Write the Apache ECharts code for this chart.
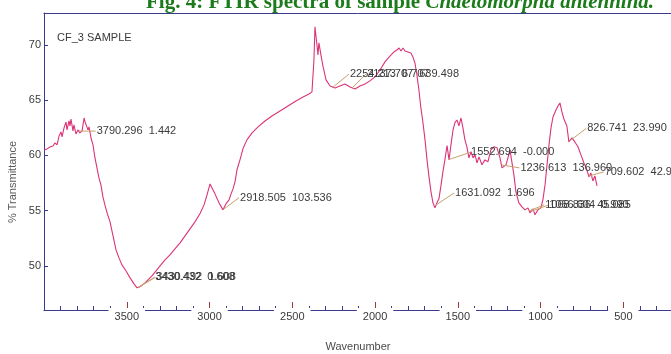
<!DOCTYPE html>
<html>
<head>
<meta charset="utf-8">
<script src="https://cdn.jsdelivr.net/npm/echarts@6/dist/echarts.min.js"></script>
<style>
  html, body { margin: 0; padding: 0; background: #ffffff; }
  #chart { width: 671px; height: 354px; }
</style>
</head>
<body>
<div id="chart"></div>
<script>
// FTIR spectrum of sample CF_3: wavenumber (cm-1) and % transmittance
const wavenumber = [
  4000, 3982, 3964, 3946, 3934, 3921, 3909, 3897, 3891, 3879, 3867, 3861, 3849, 3843, 3837, 3825,
  3819, 3807, 3795, 3783, 3770, 3758, 3752, 3746, 3734, 3728, 3716, 3704, 3692, 3680, 3668, 3656,
  3644, 3632, 3619, 3601, 3583, 3565, 3547, 3529, 3505, 3480, 3456, 3438, 3420, 3396, 3372, 3348,
  3323, 3299, 3269, 3239, 3209, 3178, 3148, 3118, 3088, 3058, 3033, 3015, 2997, 2985, 2967, 2943,
  2919, 2901, 2882, 2870, 2858, 2846, 2834, 2816, 2798, 2774, 2743, 2707, 2665, 2623, 2574, 2526,
  2478, 2435, 2399, 2381, 2369, 2363, 2351, 2345, 2339, 2327, 2315, 2296, 2272, 2242, 2212, 2182,
  2151, 2121, 2091, 2061, 2031, 2000, 1970, 1940, 1910, 1886, 1868, 1855, 1843, 1831, 1819, 1801,
  1783, 1771, 1759, 1747, 1735, 1723, 1711, 1698, 1686, 1674, 1662, 1650, 1638, 1626, 1614, 1602,
  1590, 1578, 1565, 1553, 1541, 1529, 1517, 1505, 1493, 1481, 1469, 1457, 1445, 1433, 1420, 1408,
  1396, 1384, 1372, 1354, 1336, 1318, 1300, 1282, 1263, 1245, 1233, 1209, 1197, 1185, 1173, 1161,
  1149, 1131, 1112, 1094, 1076, 1064, 1046, 1034, 1016, 998, 986, 973, 961, 949, 937, 925,
  907, 895, 883, 871, 859, 841, 829, 810, 792, 774, 756, 738, 720, 708, 696, 684,
  672, 659
];
const transmittance = [
  60.50, 60.59, 60.77, 60.86, 61.13, 60.95, 61.76, 62.13, 61.67, 62.49, 63.03, 62.31, 63.12, 62.67, 63.30, 62.22,
  62.76, 61.95, 62.31, 62.04, 62.22, 63.39, 63.03, 63.21, 62.31, 62.58, 61.58, 60.95, 59.77, 58.87, 57.96, 57.33,
  56.24, 55.52, 54.80, 53.98, 52.71, 51.45, 50.72, 50.09, 49.55, 48.91, 48.37, 48.01, 48.10, 48.37, 48.73, 49.09,
  49.55, 50.00, 50.54, 51.00, 51.54, 52.08, 52.71, 53.35, 53.98, 54.71, 55.52, 56.43, 57.42, 57.24, 56.52, 55.71,
  55.07, 55.61, 55.98, 56.52, 56.97, 57.61, 58.70, 59.60, 60.60, 61.41, 62.04, 62.58, 63.12, 63.57, 64.03, 64.48,
  64.93, 65.29, 65.57, 65.76, 68.66, 71.65, 70.02, 69.11, 70.20, 69.11, 68.11, 66.84, 66.29, 66.11, 66.29, 66.47,
  66.20, 66.02, 66.29, 66.47, 66.75, 67.11, 67.74, 68.47, 69.00, 69.37, 69.55, 69.73, 69.46, 69.73, 69.46, 69.37,
  69.28, 68.91, 68.37, 67.29, 65.93, 64.30, 63.03, 61.41, 59.60, 58.06, 56.70, 55.71, 55.25, 55.71, 56.07, 57.24,
  58.51, 59.60, 60.90, 59.60, 61.00, 62.30, 63.00, 63.21, 62.67, 63.39, 62.49, 61.41, 60.78, 59.78, 60.33, 59.78,
  60.05, 59.33, 59.87, 59.15, 59.60, 59.42, 60.51, 60.78, 60.69, 59.78, 58.87, 59.15, 59.78, 60.51, 60.33, 58.24,
  56.70, 55.70, 55.34, 55.07, 55.25, 54.80, 55.16, 54.62, 55.07, 55.25, 55.98, 57.33, 59.15, 60.96, 62.49, 63.48,
  64.12, 64.48, 64.75, 63.94, 63.30, 62.67, 61.23, 61.59, 61.20, 60.78, 60.05, 59.32, 58.69, 58.05, 58.42, 57.69,
  58.14, 57.24
];

// axis tick labels
const xTickLabels = [3500, 3000, 2500, 2000, 1500, 1000, 500];
const yTickLabels = [50, 55, 60, 65, 70];

// peak-picking annotations: wavenumber of each picked peak and its printed text
const peakWavenumbers = [3790.296, 3430.432, 3430.492, 2918.505, 2254.213, 2137.707, 1631.092,
                         1552.694, 1236.613, 1068.836, 1056.604, 826.741, 709.602];
const peakTexts = ['3790.296  1.442', '3430.432  0.608', '3430.492  1.608', '2918.505  103.536',
                   '2254.213  6.707', '2137.707  639.498', '1631.092  1.696', '1552.694  -0.000',
                   '1236.613  136.960', '1068.836  45.085', '1056.604  0.990', '826.741  23.990',
                   '709.602  42.946'];
// where each annotation text sits relative to its peak (px)
const peakTextOffsets = [[18, 0], [17, -10], [18, -10], [17, -12], [17, -13], [15, -14], [19, -12],
                         [22, -7], [19, 3], [16, -6], [18, -6], [18, -13], [16, -4]];

const spectrum = wavenumber.map((w, i) => [w, transmittance[i]]);

// minor ticks every 100 cm-1 between the labelled ones
const minorTicks = [];
for (let w = 300; w <= 3900; w += 100) if (w % 500 !== 0) minorTicks.push(w);

// transmittance on the curve at a given wavenumber (for anchoring labels)
function curveAt(w) {
  for (let i = 0; i < wavenumber.length - 1; i++) {
    const a = wavenumber[i], b = wavenumber[i + 1];
    if (w <= a && w >= b) {
      const t = (a - w) / (a - b);
      return transmittance[i] + t * (transmittance[i + 1] - transmittance[i]);
    }
  }
  return transmittance[transmittance.length - 1];
}

const AXIS = '#3c3a8e';
const TEXT = '#3a3a3a';
const FONT = '"Liberation Sans", Arial, sans-serif';

const chart = echarts.init(document.getElementById('chart'), null, { renderer: 'canvas' });

const xRange = { type: 'value', inverse: true, min: 212, max: 4000, splitLine: { show: false } };

chart.setOption({
  animation: false,
  backgroundColor: '#ffffff',
  grid: { left: 44, right: 0, top: 13, bottom: 44, outerBoundsMode: 'none' },
  xAxis: [
    Object.assign({}, xRange, {
      position: 'bottom',
      axisLine: { show: true, lineStyle: { color: AXIS, width: 1 } },
      axisTick: { show: true, inside: true, length: 8, customValues: xTickLabels,
                  lineStyle: { color: '#9a3a3a', width: 1 } },
      axisLabel: { show: true, customValues: xTickLabels, margin: -2, color: TEXT,
                   fontFamily: FONT, fontSize: 11, backgroundColor: '#ffffff',
                   padding: [3, 6, 0, 6], formatter: v => String(v) }
    }),
    Object.assign({}, xRange, {
      position: 'bottom',
      axisLine: { show: false },
      axisTick: { show: true, inside: true, length: 4, customValues: minorTicks,
                  lineStyle: { color: AXIS, width: 1 } },
      axisLabel: { show: false }
    }),
    Object.assign({}, xRange, {
      position: 'top',
      axisLine: { show: true, lineStyle: { color: AXIS, width: 1 } },
      axisTick: { show: false },
      axisLabel: { show: false }
    })
  ],
  yAxis: {
    type: 'value', min: 46, max: 72.9,
    splitLine: { show: false },
    axisLine: { show: true, lineStyle: { color: AXIS, width: 1 } },
    axisTick: { show: true, inside: true, length: 4, customValues: yTickLabels,
                lineStyle: { color: AXIS, width: 1 } },
    axisLabel: { customValues: yTickLabels, margin: 3, color: TEXT, fontFamily: FONT, fontSize: 11,
                 formatter: v => String(v) }
  },
  series: [{
    type: 'line',
    xAxisIndex: 0,
    data: spectrum,
    symbol: 'none',
    smooth: false,
    lineStyle: { color: '#dc3378', width: 1.1 },
    z: 3
  }]
});

// annotation texts, leader lines, titles
const graphics = [];
peakWavenumbers.forEach((w, i) => {
  const p = chart.convertToPixel({ xAxisIndex: 0, yAxisIndex: 0 }, [w, curveAt(w)]);
  const tx = p[0] + peakTextOffsets[i][0];
  const ty = p[1] + peakTextOffsets[i][1];
  graphics.push({
    type: 'line', silent: true, z: 5,
    shape: { x1: p[0], y1: p[1], x2: tx - 1, y2: ty },
    style: { stroke: '#c9a06c', lineWidth: 1 }
  });
  graphics.push({
    type: 'text', silent: true, z: 6, x: tx, y: ty,
    style: { text: peakTexts[i], fill: TEXT, font: '11px ' + FONT,
             textAlign: 'left', textVerticalAlign: 'middle' }
  });
});

graphics.push({
  type: 'text', silent: true, x: 57, y: 38,
  style: { text: 'CF_3 SAMPLE', fill: TEXT, font: '11px ' + FONT, textVerticalAlign: 'middle' }
});
graphics.push({
  type: 'text', silent: true, x: 358, y: 347,
  style: { text: 'Wavenumber', fill: '#4a4a4a', font: '11px ' + FONT,
           textAlign: 'center', textVerticalAlign: 'middle' }
});
graphics.push({
  type: 'text', silent: true, x: 13, y: 182, rotation: Math.PI / 2,
  style: { text: '% Transmittance', fill: '#5a5a5a', font: '11px ' + FONT,
           textAlign: 'center', textVerticalAlign: 'middle' }
});
graphics.push({
  type: 'text', silent: true, x: 146, y: 13,
  style: {
    text: '{a|Fig. 4: FTIR spectra of sample }{b|Chaetomorpha antennina.}',
    textVerticalAlign: 'bottom',
    rich: {
      a: { fill: '#1c7c1c', fontFamily: '"Liberation Serif", "Times New Roman", serif',
           fontWeight: 'bold', fontSize: 21 },
      b: { fill: '#1c7c1c', fontFamily: '"Liberation Serif", "Times New Roman", serif',
           fontWeight: 'bold', fontStyle: 'italic', fontSize: 21 }
    }
  }
});

chart.setOption({ graphic: graphics });
</script>
</body>
</html>
